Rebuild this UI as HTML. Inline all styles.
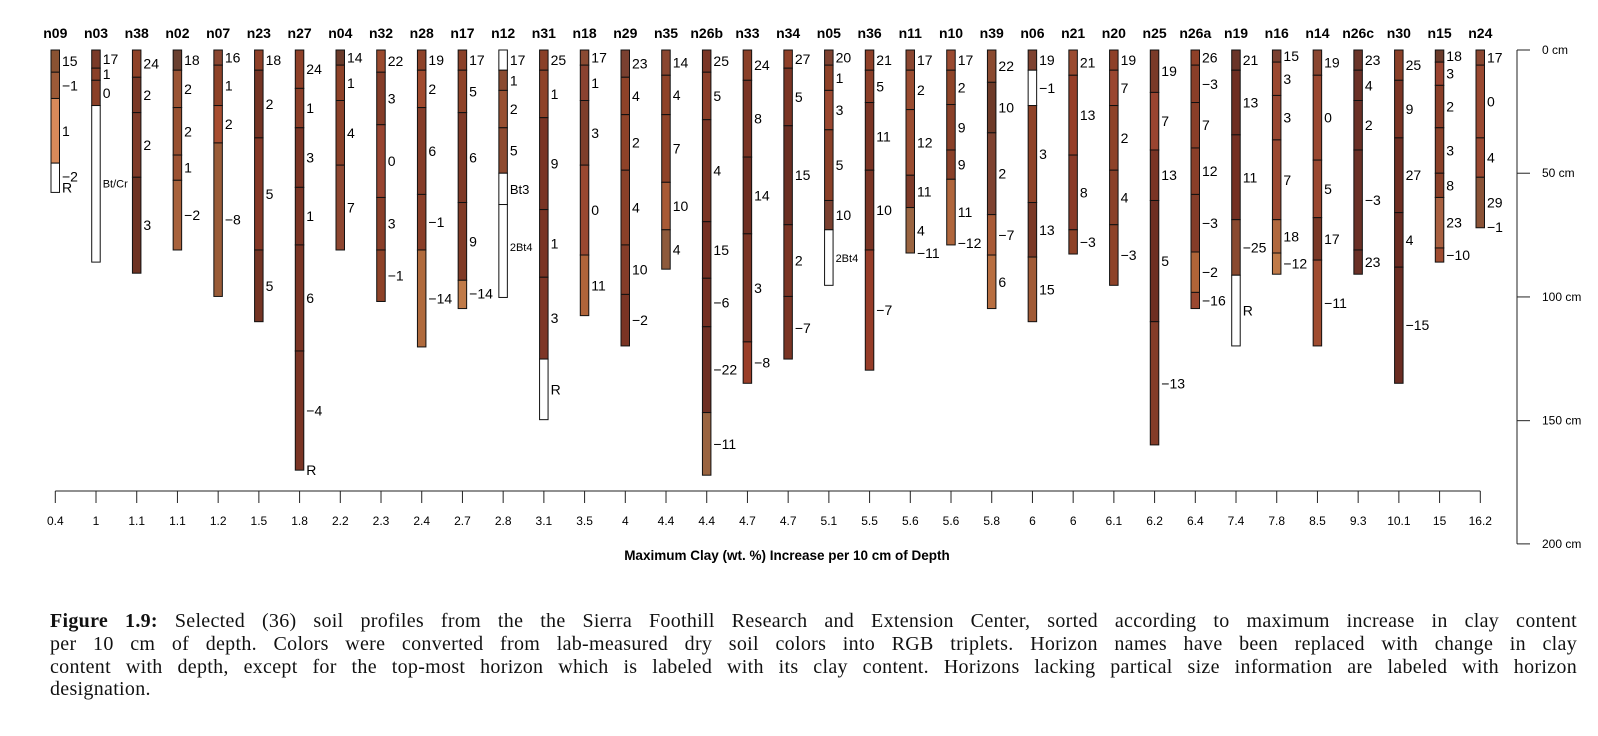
<!DOCTYPE html>
<html><head><meta charset="utf-8">
<style>
html,body{margin:0;padding:0;background:#fff;}
body{width:1598px;height:736px;position:relative;overflow:hidden;}
svg{position:absolute;left:0;top:0;}
.cap{position:absolute;left:50px;top:610px;width:1527px;font-family:"Liberation Serif",serif;font-size:20px;line-height:22.8px;color:#111;letter-spacing:0.3px;}
.cap div{text-align:justify;text-align-last:justify;white-space:nowrap;}
.cap div.l{text-align-last:left;}
</style></head><body>
<svg id="s" width="1598" height="600" xmlns="http://www.w3.org/2000/svg" font-family="Liberation Sans, sans-serif"></svg>
<div class="cap">
<div><b>Figure 1.9:</b> Selected (36) soil profiles from the the Sierra Foothill Research and Extension Center, sorted according to maximum increase in clay content</div>
<div>per 10 cm of depth. Colors were converted from lab-measured dry soil colors into RGB triplets. Horizon names have been replaced with change in clay</div>
<div>content with depth, except for the top-most horizon which is labeled with its clay content. Horizons lacking partical size information are labeled with horizon</div>
<div class="l">designation.</div>
</div>
<script>
var W='#ffffff';
var D=[
["n09","0.4",[50,72,98,162,191],["#8a5232","#9c5a38","#d88a5a",W],["15","−1","1",""],[["−2",175],["R",186]]],
["n03","1",[50,68,80,105,260],["#7a3a28","#8a4028","#8a4028",W],["17","1","0",""],[["Bt/Cr",181,1]]],
["n38","1.1",[50,77,112,176,271],["#8e4228","#7a3826","#7e3a28","#6e3222"],["24","2","2","3"]],
["n02","1.1",[50,70,107,154,179,248],["#6a4030","#9a5434","#985030","#9c5232","#a8623c"],["18","2","2","1","−2"]],
["n07","1.2",[50,65,105,142,294],["#8a4630","#8e4228","#a84e30","#9a5c38"],["16","1","2","−8"]],
["n23","1.5",[50,70,137,248,319],["#8e4028","#743424","#843826","#743424"],["18","2","5","5"]],
["n27","1.8",[50,88,127,186,243,348,466],["#8e4028","#8a3e28","#7a3424","#7a3424","#7a3424","#7a3424"],["24","1","3","1","6","−4"],[["R",466]]],
["n04","2.2",[50,65,100,164,248],["#6a3a2a","#8e4228","#8a4028","#8e4630"],["14","1","4","7"]],
["n32","2.3",[50,72,124,196,248,299],["#9a4a2e","#843c28","#984430","#8a3e28","#8e4228"],["22","3","0","3","−1"]],
["n28","2.4",[50,70,107,193,248,344],["#8e4228","#a04a2e","#853c28","#8a3e28","#b06a3c"],["19","2","6","−1","−14"]],
["n17","2.7",[50,70,112,201,278,306],["#8a4028","#8e4228","#7e3826","#803a26","#c07a48"],["17","5","6","9",""],[["−14",291]]],
["n12","2.8",[50,70,90,127,172,203,295],[W,"#8a4a30","#985032","#8e4a30",W,W],["17","1","2","5","Bt3",""],[["2Bt4",244,1]]],
["n31","3.1",[50,70,117,208,275,356,416],["#8a4028","#8e4228","#7a3424","#7a3424","#7e3626",W],["25","1","9","1","3","R"]],
["n18","3.5",[50,65,100,164,253,313],["#8a4a32","#8a4230","#7e3e2a","#9a4830","#b0643a"],["17","1","3","0","11"]],
["n29","4",[50,77,114,169,243,292,343],["#7a4030","#8e4228","#8e4228","#8a4028","#843c28","#7a3424"],["23","4","2","4","10","−2"]],
["n35","4.4",[50,75,114,181,228,267],["#8a4630","#8e4228","#8e4228","#a85a36","#8e5a3c"],["14","4","7","10","4"]],
["n26b","4.4",[50,72,119,220,276,324,409,471],["#7a3626","#8a3e28","#7a3424","#742f22","#742f22","#6e2e22","#9a6440"],["25","5","4","15","−6","−22","−11"]],
["n33","4.7",[50,80,156,232,339,380],["#8a4028","#7a3424","#6e2e22","#7a3424","#9a3e28"],["24","8","14","3","−8"]],
["n34","4.7",[50,68,125,223,294,356],["#8e4028","#7a3424","#6a2e22","#7a3424","#7a3424"],["27","5","15","2","−7"]],
["n05","5.1",[50,65,90,129,199,228,283],["#7e4230","#8e4228","#9a4830","#8a4028","#7a4030",W],["20","1","3","5","10",""],[["2Bt4",255,1]]],
["n36","5.5",[50,70,102,169,248,367],["#8e4028","#8a3e28","#7a3424","#7a3424","#963c28"],["21","5","11","10","−7"]],
["n11","5.6",[50,70,109,174,206,251],["#8a4630","#9a4c30","#9a4c30","#7e3a28","#9a6440"],["17","2","12","11","4"],[["−11",251]]],
["n10","5.6",[50,70,104,149,178,243],["#9a4a30","#8e4428","#8a4028","#8a4028","#b0663c"],["17","2","9","9","11"],[["−12",241]]],
["n39","5.8",[50,82,132,213,253,306],["#8a4a30","#6e3a28","#7e4230","#a85a36","#b86e40"],["22","10","2","−7","6"]],
["n06","6",[50,70,105,201,255,319],["#7e4230",W,"#8e4228","#7a3826","#a05a36"],["19","−1","3","13","15"]],
["n21","6",[50,75,154,228,252],["#9a4a30","#963e28","#8a3a28","#8e4228"],["21","13","8","−3"]],
["n20","6.1",[50,70,105,169,223,283],["#8e4028","#9a4630","#8e4228","#8a4028","#8e4228"],["19","7","2","4","−3"]],
["n25","6.2",[50,92,149,199,319,441],["#7a3a28","#9a4430","#7a3424","#6e2e22","#843c28"],["19","7","13","5","−13"]],
["n26a","6.4",[50,65,102,147,193,250,290,306],["#8e4028","#8a3e28","#8a3e28","#8a3e28","#843c28","#b06438","#9a4830"],["26","−3","7","12","−3","−2","−16"]],
["n19","7.4",[50,70,134,218,273,343],["#6a3428","#6e2e22","#742f22","#8a4a30",W],["21","13","11","−25","R"]],
["n16","7.8",[50,62,95,139,218,251,272],["#7a4030","#9a4830","#984630","#9a4830","#b0683e","#c07a48"],["15","3","3","7","18","−12"]],
["n14","8.5",[50,75,159,216,258,343],["#8a4630","#9a4830","#9a4830","#7a3826","#a04c30"],["19","0","5","17","−11"]],
["n26c","9.3",[50,70,100,149,248,272],["#6a3428","#6a3026","#6a3026","#6a3026","#6a3026"],["23","4","2","−3","23"]],
["n30","10.1",[50,80,137,211,265,380],["#8a4028","#7a3424","#6e2e22","#6a2c22","#6a2c22"],["25","9","27","4","−15"]],
["n15","15",[50,62,85,127,172,196,246,260],["#6a3a2a","#9a4430","#8a3e28","#8a4028","#8a4028","#a86040","#a04c30"],["18","3","2","3","8","23","−10"]],
["n24","16.2",[50,65,137,176,226],["#8a4630","#9a4830","#9a4830","#8a5236"],["17","0","4","29"],[["−1",225]]]
];
function Y(y){return 50+(y-50)*1.01;}
var h='';
var sp=(1476-51)/35;
D.forEach(function(p,i){
 var x=51+i*sp, cx=x+4.3, b=p[2].map(Y);
 h+='<text x="'+cx+'" y="38" font-size="14" font-weight="bold" text-anchor="middle">'+p[0]+'</text>';
 for(var k=0;k<b.length-1;k++){
  h+='<rect x="'+x+'" y="'+b[k]+'" width="8.5" height="'+(b[k+1]-b[k])+'" fill="'+p[3][k]+'" stroke="#111" stroke-width="1"/>';
  var l=p[4][k];
  if(l){var sm=(l.length>2&&/[A-Za-z]/.test(l));h+='<text x="'+(x+11)+'" y="'+((b[k]+b[k+1])/2+5)+'" font-size="'+(sm?13:14)+'">'+l+'</text>';}
 }
 (p[5]||[]).forEach(function(e){h+='<text x="'+(x+11)+'" y="'+(Y(e[1])+5)+'" font-size="'+(e[2]?11:14)+'">'+e[0]+'</text>';});
 h+='<line x1="'+cx+'" y1="491" x2="'+cx+'" y2="503" stroke="#222" stroke-width="1"/>';
 h+='<text x="'+cx+'" y="525" font-size="12" text-anchor="middle">'+p[1]+'</text>';
});
h+='<line x1="'+(51+4.3)+'" y1="491" x2="'+(51+35*sp+4.3)+'" y2="491" stroke="#222" stroke-width="1"/>';
h+='<text x="787" y="560" font-size="13.5" font-weight="bold" text-anchor="middle">Maximum Clay (wt. %) Increase per 10 cm of Depth</text>';
h+='<line x1="1517" y1="50" x2="1517" y2="'+Y(539)+'" stroke="#222" stroke-width="1"/>';
[[0,50],[50,172],[100,294.5],[150,417],[200,539]].forEach(function(t){
 var y=Y(t[1]);
 h+='<line x1="1517" y1="'+y+'" x2="1530" y2="'+y+'" stroke="#222" stroke-width="1"/>';
 h+='<text x="1542" y="'+(y+4)+'" font-size="12">'+t[0]+' cm</text>';
});
document.getElementById('s').innerHTML=h;
</script>
</body></html>
